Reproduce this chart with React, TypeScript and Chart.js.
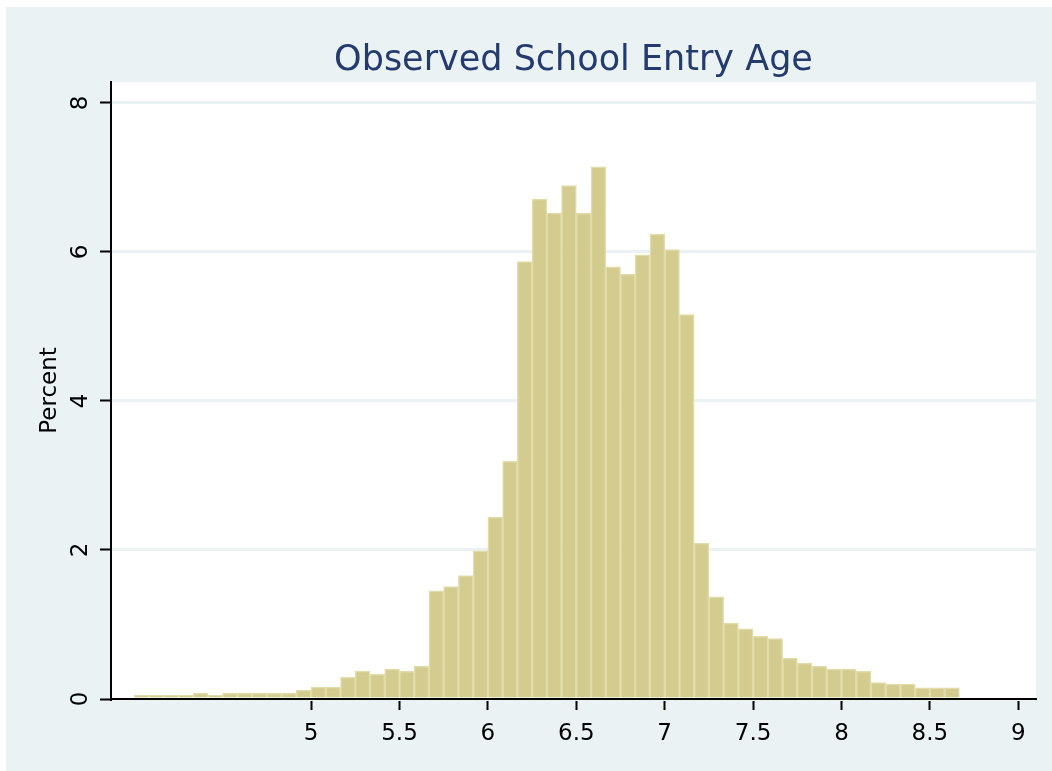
import React, { useEffect, useRef } from 'react';
import { Chart, registerables } from 'chart.js';

Chart.register(...registerables);

// Histogram definition: monthly bins (width 1/12 year) starting at age 4
const BIN_START = 4;
const BIN_WIDTH = 1 / 12;

// Percent of children in each monthly bin
const percentValues = [
  0.05, 0.05, 0.05, 0.05, 0.08, 0.05, 0.08, 0.08, 0.08, 0.08,
  0.08, 0.12, 0.16, 0.16, 0.29, 0.375, 0.33, 0.40, 0.37, 0.44,
  1.45, 1.51, 1.655, 1.99, 2.44, 3.19, 5.87, 6.71, 6.52, 6.89,
  6.52, 7.14, 5.80, 5.70, 5.96, 6.24, 6.03, 5.16, 2.09, 1.37,
  1.02, 0.94, 0.84, 0.81, 0.55, 0.48, 0.44, 0.40, 0.40, 0.37,
  0.22, 0.20, 0.20, 0.15, 0.15, 0.15,
];

const xTickValues = [5, 5.5, 6, 6.5, 7, 7.5, 8, 8.5, 9];
const yTickValues = [0, 2, 4, 6, 8];

const chartTitle = 'Observed School Entry Age';
const yAxisTitle = 'Percent';

const FONT = 'DejaVu Sans';

const backgroundPlugin = {
  id: 'stataBackground',
  beforeDraw(chart: any) {
    const { ctx, chartArea } = chart;
    ctx.save();
    ctx.fillStyle = '#ffffff';
    ctx.fillRect(0, 0, chart.width, chart.height);
    ctx.fillStyle = '#eaf2f3';
    ctx.fillRect(6, 7, chart.width - 6, chart.height - 7);
    ctx.fillStyle = '#ffffff';
    ctx.fillRect(
      chartArea.left,
      chartArea.top,
      chartArea.right - chartArea.left,
      chartArea.bottom - chartArea.top
    );
    ctx.restore();
  },
};

export default function App() {
  const canvasRef = useRef<HTMLCanvasElement | null>(null);

  useEffect(() => {
    if (!canvasRef.current) return;
    const points = percentValues.map((v, i) => ({
      x: BIN_START + (i + 0.5) * BIN_WIDTH,
      y: v,
    }));

    const chart = new Chart(canvasRef.current, {
      type: 'bar',
      data: {
        datasets: [
          {
            data: points as any,
            backgroundColor: '#d3cc8e',
            borderColor: '#e1dcaa',
            borderWidth: 1.5,
            barPercentage: 1,
            categoryPercentage: 1,
            grouped: false,
          },
        ],
      },
      options: {
        animation: false,
        responsive: false,
        devicePixelRatio: 1,
        layout: { padding: { left: 0, right: 16, top: 0, bottom: 0 } },
        plugins: {
          legend: { display: false },
          tooltip: { enabled: false },
          title: {
            display: true,
            text: chartTitle,
            color: '#233b6e',
            fullSize: false,
            font: { family: FONT, size: 35, weight: 'normal' },
            padding: { top: 40, bottom: 0 },
          },
        },
        scales: {
          x: {
            type: 'linear',
            offset: false,
            min: 3.8685,
            max: 9.1,
            afterBuildTicks: (s: any) => {
              s.ticks = xTickValues.map((v) => ({ value: v }));
            },
            afterFit: (s: any) => {
              s.height = 72;
            },
            grid: {
              offset: false,
              drawOnChartArea: false,
              drawTicks: true,
              tickLength: 11,
              tickColor: '#000000',
              tickWidth: 2,
            },
            border: { color: '#000000', width: 2 },
            ticks: {
              color: '#000000',
              font: { family: FONT, size: 23 },
              padding: 10,
              maxRotation: 0,
              autoSkip: false,
              callback: (v: any) => String(v),
            },
          },
          y: {
            type: 'linear',
            min: 0,
            max: 8.28,
            afterBuildTicks: (s: any) => {
              s.ticks = yTickValues.map((v) => ({ value: v }));
            },
            afterFit: (s: any) => {
              s.width = 111;
            },
            grid: {
              color: '#eaf2f3',
              lineWidth: 3,
              drawTicks: true,
              tickLength: 11,
              tickColor: '#000000',
              tickWidth: 2,
            },
            border: { color: '#000000', width: 2 },
            ticks: {
              color: '#000000',
              font: { family: FONT, size: 23 },
              padding: 12,
              minRotation: 90,
              maxRotation: 90,
              crossAlign: 'center',
              callback: (v: any) => String(v),
            },
            title: {
              display: true,
              text: yAxisTitle,
              color: '#000000',
              font: { family: FONT, size: 23 },
              padding: { top: 36, bottom: 0 },
            },
          },
        },
      } as any,
      plugins: [backgroundPlugin],
    });

    return () => chart.destroy();
  }, []);

  return (
    <div style={{ position: 'absolute', left: 0, top: 0, width: 1052, height: 771 }}>
      <canvas ref={canvasRef} width={1052} height={771} style={{ width: 1052, height: 771 }} />
    </div>
  );
}
